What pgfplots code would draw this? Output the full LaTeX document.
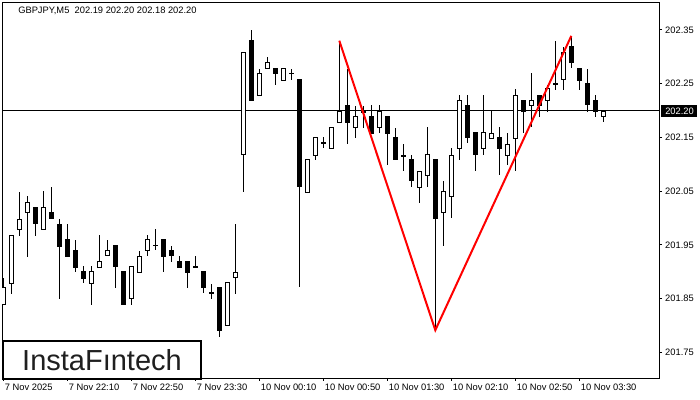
\documentclass[border=0pt]{standalone}
\usepackage{fontspec}
\setmainfont{Liberation Sans}
\usepackage{pgfplots}
\pgfplotsset{compat=1.18}
\usepackage{pgfplotstable}

\pgfplotstableread{
i o h l c
0 201.839 201.890 201.839 201.871
1 201.879 201.969 201.860 201.969
2 201.979 202.050 201.968 201.999
3 202.011 202.041 201.929 202.030
4 202.020 202.020 201.968 201.990
5 201.979 202.050 201.979 202.020
6 202.011 202.059 201.999 201.999
7 201.990 201.999 201.850 201.949
8 201.960 201.990 201.930 201.930
9 201.940 201.960 201.899 201.909
10 201.901 201.911 201.879 201.889
11 201.879 201.911 201.839 201.901
12 201.909 201.969 201.909 201.919
13 201.930 201.960 201.930 201.940
14 201.949 201.949 201.871 201.909
15 201.901 201.901 201.839 201.839
16 201.850 201.911 201.839 201.911
17 201.899 201.940 201.899 201.930
18 201.940 201.969 201.930 201.960
19 201.949 201.979 201.940 201.950
20 201.960 201.960 201.899 201.930
21 201.940 201.949 201.919 201.930
22 201.919 201.930 201.909 201.909
23 201.919 201.919 201.871 201.899
24 201.910 201.930 201.909 201.909
25 201.901 201.901 201.860 201.871
26 201.861 201.879 201.850 201.860
27 201.871 201.871 201.779 201.791
28 201.799 201.879 201.799 201.879
29 201.890 201.990 201.860 201.899
30 202.118 202.308 202.049 202.308
31 202.330 202.350 202.218 202.218
32 202.228 202.279 202.228 202.269
33 202.279 202.299 202.279 202.290
34 202.279 202.279 202.249 202.269
35 202.258 202.279 202.258 202.279
36 202.269 202.279 202.258 202.270
37 202.258 202.258 201.871 202.058
38 202.049 202.109 202.049 202.109
39 202.118 202.151 202.109 202.151
40 202.139 202.151 202.130 202.140
41 202.130 202.169 202.130 202.169
42 202.179 202.330 202.179 202.199
43 202.210 202.279 202.139 202.179
44 202.169 202.210 202.150 202.189
45 202.199 202.210 202.169 202.196
46 202.189 202.210 202.159 202.159
47 202.169 202.210 202.159 202.199
48 202.189 202.189 202.099 202.159
49 202.151 202.169 202.109 202.109
50 202.118 202.139 202.088 202.117
51 202.109 202.118 202.058 202.069
52 202.058 202.088 202.028 202.088
53 202.079 202.169 202.058 202.118
54 202.109 202.109 201.791 201.999
55 202.011 202.069 201.949 202.049
56 202.040 202.130 201.999 202.118
57 202.130 202.229 202.109 202.219
58 202.210 202.229 202.139 202.150
59 202.159 202.159 202.088 202.118
60 202.130 202.229 202.118 202.159
61 202.150 202.199 202.150 202.159
62 202.151 202.169 202.079 202.130
63 202.118 202.159 202.099 202.139
64 202.150 202.240 202.088 202.229
65 202.219 202.219 202.159 202.199
66 202.210 202.269 202.169 202.219
67 202.229 202.229 202.189 202.210
68 202.219 202.249 202.199 202.240
69 202.249 202.330 202.240 202.250
70 202.258 202.319 202.240 202.308
71 202.319 202.339 202.279 202.290
72 202.279 202.279 202.240 202.258
73 202.249 202.279 202.199 202.210
74 202.219 202.229 202.189 202.199
75 202.189 202.199 202.179 202.199
}\candles

\begin{document}
\begin{tikzpicture}[x=0.75pt,y=0.75pt]
\useasboundingbox (0,0) rectangle (700,400);
\fill[white] (0,0) rectangle (700,400);
\begin{axis}[
  at={(1.5pt,16.5pt)}, anchor=south west,
  scale only axis, width=492.75pt, height=282pt,
  xmin=-0.16, xmax=81.96, ymin=201.702, ymax=202.402,
  axis line style={line width=0.75pt},
  xtick={0,8,16,24,32,40,48,56,64,72},
  xticklabels={7 Nov 2025,7 Nov 22:10,7 Nov 22:50,7 Nov 23:30,10 Nov 00:10,10 Nov 00:50,10 Nov 01:30,10 Nov 02:10,10 Nov 02:50,10 Nov 03:30},
  ytick={201.75,201.85,201.95,202.05,202.15,202.25,202.35},
  xtick pos=bottom, ytick pos=right,
  yticklabel pos=right,
  tick align=outside,
  major tick length=2.25pt,
  tick style={black, line width=0.75pt},
  xticklabel style={anchor=north west, inner sep=1pt, font=\fontsize{7}{8}\selectfont, yshift=-1pt},
  yticklabel style={anchor=west, inner sep=1pt, xshift=1.2pt, font=\fontsize{7}{8}\selectfont, /pgf/number format/fixed, /pgf/number format/fixed zerofill, /pgf/number format/precision=2},
  /pgf/number format/assume math mode=true,
  scaled y ticks=false,
]
\addplot [black, line width=0.75pt, forget plot] coordinates {(-5,202.2) (90,202.2)};
% wicks
\addplot [draw=none, mark=none, forget plot,
  error bars/.cd, y dir=both, y explicit, error mark=none,
  error bar style={draw=black, line width=0.75pt}]
  table [x=i, y expr={(\thisrow{h}+\thisrow{l})/2}, y error expr={(\thisrow{h}-\thisrow{l})/2}] {\candles};
% bodies (outline / black)
\addplot [draw=none, mark=none, forget plot,
  error bars/.cd, y dir=both, y explicit, error mark=none,
  error bar style={draw=black, line width=3.75pt}]
  table [x=i, y expr={(\thisrow{o}+\thisrow{c})/2}, y error expr={abs(\thisrow{c}-\thisrow{o})/2+0.00093}] {\candles};
% white bodies
\addplot [draw=none, mark=none, forget plot,
  restrict expr to domain={\thisrow{c}-\thisrow{o}}{0.0015:1},
  error bars/.cd, y dir=both, y explicit, error mark=none,
  error bar style={draw=white, line width=2.25pt}]
  table [x=i, y expr={(\thisrow{o}+\thisrow{c})/2}, y error expr={abs(\thisrow{c}-\thisrow{o})/2-0.00093}] {\candles};
% pattern
\addplot [red, line width=1.5pt, forget plot] coordinates {(42,202.330) (54,201.791) (71,202.339)};
\end{axis}
\node[anchor=west, inner sep=0pt, font=\fontsize{7}{8}\selectfont] at (18,389) {GBPJPY,M5\ \ 202.19 202.20 202.18 202.20};
\fill[black] (661,283) rectangle (697,295);
\node[anchor=west, inner sep=0pt, text=white, font=\fontsize{7}{8}\selectfont] at (665,289) {202.20};
\draw[line width=1.5pt, fill=white] (3,21) rectangle (201,59);
\node[text=black!88, font=\fontsize{21.75}{24}\selectfont] at (102,40) {InstaFıntech};
\end{tikzpicture}
\end{document}
